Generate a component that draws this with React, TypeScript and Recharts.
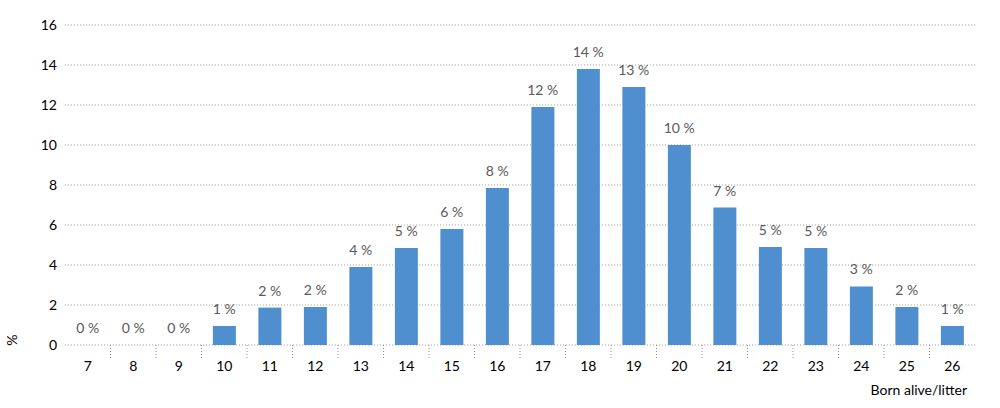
import { ComposedChart, Bar, Line, XAxis, YAxis, CartesianGrid, LabelList } from "recharts";

const litterSizes = ["7", "8", "9", "10", "11", "12", "13", "14", "15", "16", "17", "18", "19", "20", "21", "22", "23", "24", "25", "26"];
const shares = [0, 0, 0, 0.95, 1.87, 1.9, 3.9, 4.85, 5.8, 7.85, 11.9, 13.8, 12.9, 10.0, 6.87, 4.9, 4.85, 2.93, 1.9, 0.95];
const yTicks = [0, 2, 4, 6, 8, 10, 12, 14, 16];

const data = litterSizes.map((size, i) => ({ size, share: shares[i] }));

const W = 1000;
const H = 408;
const margin = { top: 25, right: 25, left: 5, bottom: 33 };
const yAxisWidth = 60;
const font = "Lato, 'Open Sans', sans-serif";

const plotWidth = W - margin.left - margin.right - yAxisWidth;
const step = plotWidth / litterSizes.length;

function SizeTick(props: any) {
  const { x, y, index } = props;
  return (
    <g>
      {index > 0 && (
        <line x1={x - step / 2} x2={x - step / 2} y1={y - 8} y2={y + 6} stroke="#8c8c8c" strokeDasharray="1 2" />
      )}
      <text x={x} y={y + 18} textAnchor="middle" fontSize={14} fontFamily={font} fill="#000">
        {props.payload.value}
      </text>
    </g>
  );
}

function ShareLabel(props: any) {
  const { x, y, value } = props;
  return (
    <text x={x} y={y - 12} textAnchor="middle" fontSize={14} fontFamily={font} fill="#595959">
      {`${Math.round(Number(value))} %`}
    </text>
  );
}

export default function App() {
  return (
    <div style={{ position: "absolute", left: 0, top: 0 }}>
      <ComposedChart width={W} height={H} data={data} margin={margin} barCategoryGap="25%">
        <CartesianGrid vertical={false} stroke="#a0a0a0" strokeDasharray="1 2" />
        <XAxis dataKey="size" height={30} axisLine={false} tickLine={false} tick={<SizeTick />} interval={0} />
        <YAxis
          width={yAxisWidth}
          domain={[0, 16]}
          ticks={yTicks}
          axisLine={false}
          tickLine={false}
          tick={{ fontSize: 14, fontFamily: font, fill: "#000" }}
        />
        <Bar dataKey="share" fill="#4f8fcf" isAnimationActive={false} />
        <Line dataKey="share" stroke="none" dot={false} activeDot={false} isAnimationActive={false}>
          <LabelList dataKey="share" content={<ShareLabel />} />
        </Line>
        <text x={967} y={395} textAnchor="end" fontSize={14} fontFamily={font} fill="#000">
          Born alive/litter
        </text>
        <text x={17} y={340} textAnchor="middle" fontSize={14} fontFamily={font} fill="#000" transform="rotate(-90 17 340)">
          %
        </text>
      </ComposedChart>
    </div>
  );
}
